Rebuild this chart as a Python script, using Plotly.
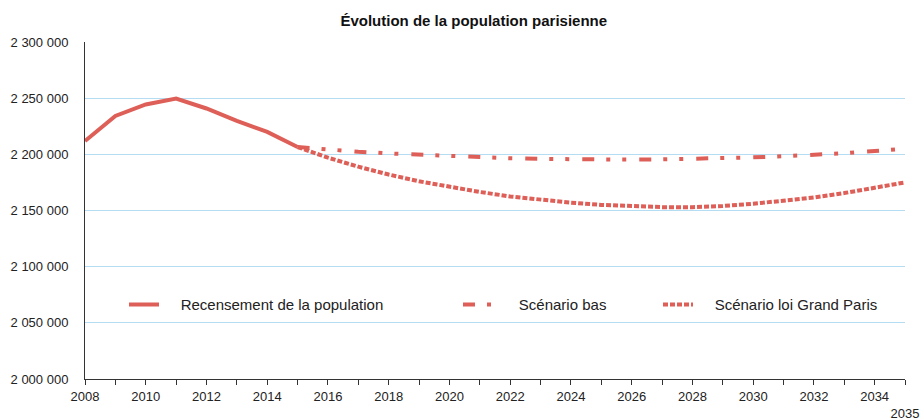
import plotly.graph_objects as go

years_census = list(range(2008, 2016))
census = [2211800, 2234200, 2244400, 2249700, 2240800, 2229700, 2220000, 2206500]

years_proj = list(range(2015, 2036))
scenario_bas = [2206500, 2204000, 2202300, 2200800, 2199500, 2198300, 2197300, 2196500,
                2195900, 2195500, 2195300, 2195300, 2195500, 2195900, 2196500, 2197300,
                2198300, 2199500, 2201000, 2203000, 2205000]
scenario_gp = [2206500, 2197000, 2189000, 2182000, 2176000, 2171000, 2166500, 2162500,
               2159500, 2157000, 2155000, 2153800, 2153000, 2153000, 2154000, 2156000,
               2158500, 2161500, 2165500, 2170000, 2175000]

names = ["Recensement de la population", "Scénario bas", "Scénario loi Grand Paris"]
tick_years = list(range(2008, 2035, 2)) + [2035]
tick_text = [str(y) for y in range(2008, 2035, 2)] + ["<br>2035"]

RED = "#DE5F58"
FONT = "Liberation Sans, Arial, sans-serif"
PAD = "\u00a0\u00a0\u00a0\u00a0"

fig = go.Figure()
fig.add_trace(go.Scatter(x=years_census, y=census, mode="lines", name=PAD + names[0],
                         line=dict(color=RED, width=4), legend="legend", showlegend=True))
fig.add_trace(go.Scatter(x=years_proj, y=scenario_bas, mode="lines",
                         name=PAD + "\u00a0" + names[1],
                         line=dict(color=RED, width=4, dash="12px,12px,4px,12px,4px,13px"),
                         legend="legend2", showlegend=True))
fig.add_trace(go.Scatter(x=years_proj, y=scenario_gp, mode="lines", name=PAD + names[2],
                         line=dict(color=RED, width=4, dash="5px,2px"), legend="legend3",
                         showlegend=True))

leg_common = dict(orientation="h", yanchor="middle", y=0.22, xanchor="left",
                  bgcolor="rgba(0,0,0,0)", font=dict(family=FONT, size=15, color="#222"),
                  itemclick=False, itemdoubleclick=False, visible=True)

fig.update_layout(
    width=920, height=419,
    showlegend=True,
    margin=dict(l=85, r=15, t=42, b=40),
    paper_bgcolor="white", plot_bgcolor="white",
    separators=", ",
    font=dict(family=FONT, size=13, color="#222"),
    title=dict(text="<b>Évolution de la population parisienne</b>", x=0.515, xanchor="center",
               y=0.95, yanchor="middle", font=dict(family=FONT, size=15, color="#111")),
    legend=dict(x=(124 - 85) / 820, **leg_common),
    legend2=dict(x=(458 - 85) / 820, **leg_common),
    legend3=dict(x=(658 - 85) / 820, **leg_common),
    xaxis=dict(range=[2008, 2035], tickvals=tick_years, ticktext=tick_text, tickangle=0,
               ticks="outside", ticklen=5, tickcolor="#333", showgrid=False,
               showline=True, linecolor="#333", linewidth=1, zeroline=False,
               tickfont=dict(size=13), automargin=False,
               minor=dict(dtick=1, tick0=2008, ticks="outside", ticklen=5, tickcolor="#333",
                          showgrid=False)),
    yaxis=dict(range=[2000000, 2300000], dtick=50000, tick0=2000000, tickformat=",d",
               showgrid=True, gridcolor="#B4DCF2", gridwidth=1, showline=True,
               linecolor="#333", linewidth=1, zeroline=False, ticks="", ticklabelstandoff=13,
               tickfont=dict(size=13), automargin=False),
)

fig.write_html("out.html", post_script="document.body.style.margin='0';",
               config={"displayModeBar": False})
